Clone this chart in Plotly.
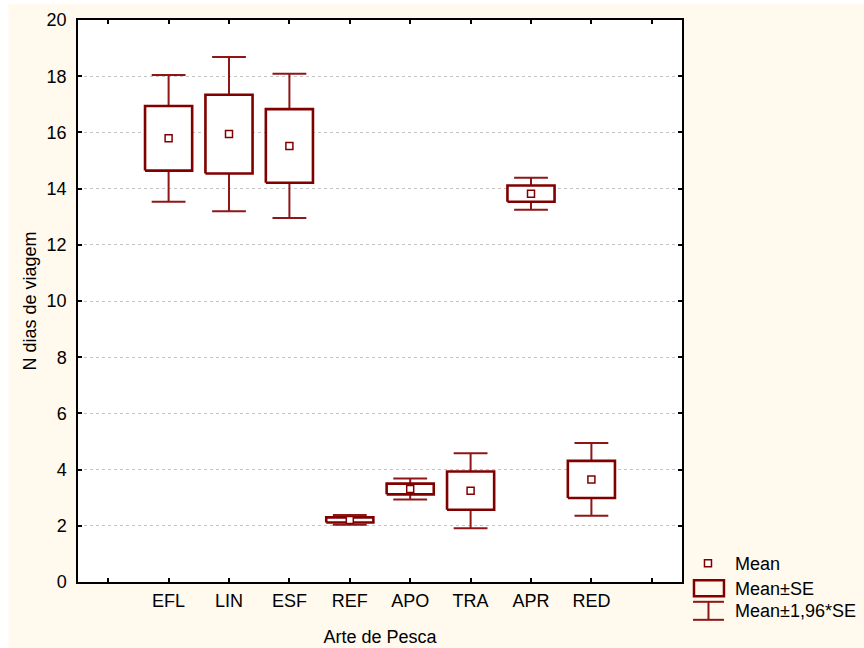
import plotly.graph_objects as go

# Fishing gear categories and trip-duration statistics (days)
gears = ["EFL", "LIN", "ESF", "REF", "APO", "TRA", "APR", "RED"]
mean_days = [15.79, 15.94, 15.52, 2.21, 3.31, 3.25, 13.82, 3.65]
se_days = [1.15, 1.40, 1.31, 0.09, 0.19, 0.68, 0.29, 0.66]
y_ticks = [0, 2, 4, 6, 8, 10, 12, 14, 16, 18, 20]

DARK = "#800000"
WHISK = "#8E1616"
FONT = "Arial, Liberation Sans, sans-serif"

BOX_HW = 0.39   # half width of the ±SE box (category units)
CAP_HW = 0.28   # half width of the whisker caps

# Plot-area pixel geometry
W, H = 864, 648
L, R, T, B = 77.5, 682, 20, 581.7

box_x, box_y = [], []
wh_x, wh_y = [], []
for i, (m, s) in enumerate(zip(mean_days, se_days)):
    lo, hi = m - s, m + s
    wlo, whi = m - 1.96 * s, m + 1.96 * s
    box_x += [i - BOX_HW, i + BOX_HW, i + BOX_HW, i - BOX_HW, i - BOX_HW, None]
    box_y += [lo, lo, hi, hi, lo, None]
    # whisker stems
    wh_x += [i, i, None, i, i, None]
    wh_y += [hi, whi, None, lo, wlo, None]
    # caps
    wh_x += [i - CAP_HW, i + CAP_HW, None, i - CAP_HW, i + CAP_HW, None]
    wh_y += [whi, whi, None, wlo, wlo, None]

fig = go.Figure()
fig.add_trace(go.Scatter(x=wh_x, y=wh_y, mode="lines",
                         line=dict(color=WHISK, width=2), hoverinfo="skip",
                         showlegend=False))
fig.add_trace(go.Scatter(x=box_x, y=box_y, mode="lines", fill="toself",
                         fillcolor="white", line=dict(color=DARK, width=2.6),
                         hoverinfo="skip", showlegend=False))
fig.add_trace(go.Scatter(x=list(range(len(gears))), y=mean_days, mode="markers",
                         marker=dict(symbol="square", size=7, color="white",
                                     line=dict(color=DARK, width=1.5)),
                         showlegend=False))


def px_x(px):
    return (px - L) / (R - L)


def px_y(py):
    return (B - py) / (B - T)


shapes = [
    # cream page background
    dict(type="rect", xref="paper", yref="paper", layer="below",
         x0=px_x(8), x1=px_x(W + 2), y0=px_y(H + 2), y1=px_y(4),
         fillcolor="#FFF9EE", line=dict(width=0)),
    # white plot area
    dict(type="rect", xref="paper", yref="paper", layer="below",
         x0=0, x1=1, y0=0, y1=1, fillcolor="white", line=dict(width=0)),
    # legend: mean marker
    dict(type="rect", xref="paper", yref="paper",
         x0=px_x(704.5), x1=px_x(711.5), y0=px_y(566.5), y1=px_y(559.5),
         fillcolor="white", line=dict(color=DARK, width=1.5)),
    # legend: ±SE box
    dict(type="rect", xref="paper", yref="paper",
         x0=px_x(694), x1=px_x(724), y0=px_y(596), y1=px_y(580),
         fillcolor="rgba(0,0,0,0)", line=dict(color=DARK, width=2.5)),
    # legend: whisker icon
    dict(type="line", xref="paper", yref="paper",
         x0=px_x(693), x1=px_x(724), y0=px_y(601.5), y1=px_y(601.5),
         line=dict(color=WHISK, width=2)),
    dict(type="line", xref="paper", yref="paper",
         x0=px_x(693), x1=px_x(724), y0=px_y(619.5), y1=px_y(619.5),
         line=dict(color=WHISK, width=2)),
    dict(type="line", xref="paper", yref="paper",
         x0=px_x(708.5), x1=px_x(708.5), y0=px_y(601.5), y1=px_y(619.5),
         line=dict(color=WHISK, width=2)),
]

legend_text = [("Mean", 564), ("Mean±SE", 588.5), ("Mean±1,96*SE", 611)]
annotations = [
    dict(text=t, xref="paper", yref="paper", x=px_x(733), y=px_y(py),
         xanchor="left", yanchor="middle", showarrow=False,
         font=dict(family=FONT, size=18, color="black"))
    for t, py in legend_text
]

axis_common = dict(showline=True, linecolor="black", linewidth=1.5,
                   mirror="ticks", ticks="inside", ticklen=4,
                   tickcolor="black", tickwidth=1.5, zeroline=False,
                   automargin=False,
                   tickfont=dict(family=FONT, size=18, color="black"))

fig.update_layout(
    width=W, height=H,
    margin=dict(l=L, r=W - R, t=T, b=H - B),
    paper_bgcolor="white", plot_bgcolor="rgba(0,0,0,0)",
    font=dict(family=FONT, size=18, color="black"),
    shapes=shapes, annotations=annotations,
    showlegend=False,
    xaxis=dict(range=[-1.5, 8.5], tickvals=list(range(-1, len(gears) + 1)),
               ticktext=[""] + gears + [""], showgrid=False,
               ticklabelstandoff=2,
               title=dict(text="Arte de Pesca", standoff=20,
                          font=dict(family=FONT, size=18)),
               **axis_common),
    yaxis=dict(range=[0, 20], tickvals=y_ticks,
               showgrid=True, gridcolor="#C4C4C4", griddash="dot", gridwidth=1,
               ticklabelstandoff=6,
               title=dict(text="N dias de viagem", standoff=5,
                          font=dict(family=FONT, size=18)),
               **axis_common),
)

fig.write_html("out.html")
